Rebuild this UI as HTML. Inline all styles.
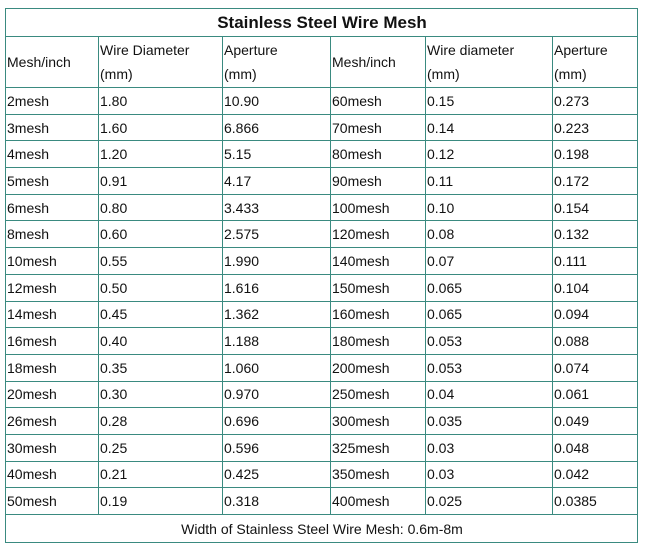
<!DOCTYPE html>
<html><head><style>
body{margin:0;background:#fff;}
table{position:absolute;left:5px;top:8px;border-collapse:collapse;font-family:"Liberation Sans",sans-serif;font-size:14px;color:#111;table-layout:fixed;}
td{border:1.5px solid #3a8a80;padding:0 0 0 1px;vertical-align:middle;white-space:nowrap;overflow:hidden;}
tr{height:26.7px;}
tr.tt{height:28px;}
.t{text-align:center;font-weight:bold;font-size:17px;}
tr.h{height:51px;}
.h td{line-height:24px;}
tr.ff{height:28px;}
.f{text-align:center;}
</style></head><body>
<table>
<colgroup><col style="width:93px"><col style="width:124px"><col style="width:108px"><col style="width:95px"><col style="width:127px"><col style="width:85px"></colgroup>
<tr class="tt"><td colspan="6" class="t">Stainless Steel Wire Mesh</td></tr>
<tr class="h"><td>Mesh/inch</td><td>Wire Diameter<br>(mm)</td><td>Aperture<br>(mm)</td><td>Mesh/inch</td><td>Wire diameter<br>(mm)</td><td>Aperture<br>(mm)</td></tr>
<tr><td>2mesh</td><td>1.80</td><td>10.90</td><td>60mesh</td><td>0.15</td><td>0.273</td></tr>
<tr><td>3mesh</td><td>1.60</td><td>6.866</td><td>70mesh</td><td>0.14</td><td>0.223</td></tr>
<tr><td>4mesh</td><td>1.20</td><td>5.15</td><td>80mesh</td><td>0.12</td><td>0.198</td></tr>
<tr><td>5mesh</td><td>0.91</td><td>4.17</td><td>90mesh</td><td>0.11</td><td>0.172</td></tr>
<tr><td>6mesh</td><td>0.80</td><td>3.433</td><td>100mesh</td><td>0.10</td><td>0.154</td></tr>
<tr><td>8mesh</td><td>0.60</td><td>2.575</td><td>120mesh</td><td>0.08</td><td>0.132</td></tr>
<tr><td>10mesh</td><td>0.55</td><td>1.990</td><td>140mesh</td><td>0.07</td><td>0.111</td></tr>
<tr><td>12mesh</td><td>0.50</td><td>1.616</td><td>150mesh</td><td>0.065</td><td>0.104</td></tr>
<tr><td>14mesh</td><td>0.45</td><td>1.362</td><td>160mesh</td><td>0.065</td><td>0.094</td></tr>
<tr><td>16mesh</td><td>0.40</td><td>1.188</td><td>180mesh</td><td>0.053</td><td>0.088</td></tr>
<tr><td>18mesh</td><td>0.35</td><td>1.060</td><td>200mesh</td><td>0.053</td><td>0.074</td></tr>
<tr><td>20mesh</td><td>0.30</td><td>0.970</td><td>250mesh</td><td>0.04</td><td>0.061</td></tr>
<tr><td>26mesh</td><td>0.28</td><td>0.696</td><td>300mesh</td><td>0.035</td><td>0.049</td></tr>
<tr><td>30mesh</td><td>0.25</td><td>0.596</td><td>325mesh</td><td>0.03</td><td>0.048</td></tr>
<tr><td>40mesh</td><td>0.21</td><td>0.425</td><td>350mesh</td><td>0.03</td><td>0.042</td></tr>
<tr><td>50mesh</td><td>0.19</td><td>0.318</td><td>400mesh</td><td>0.025</td><td>0.0385</td></tr>
<tr class="ff"><td colspan="6" class="f">Width of Stainless Steel Wire Mesh: 0.6m-8m</td></tr>
</table>
</body></html>
